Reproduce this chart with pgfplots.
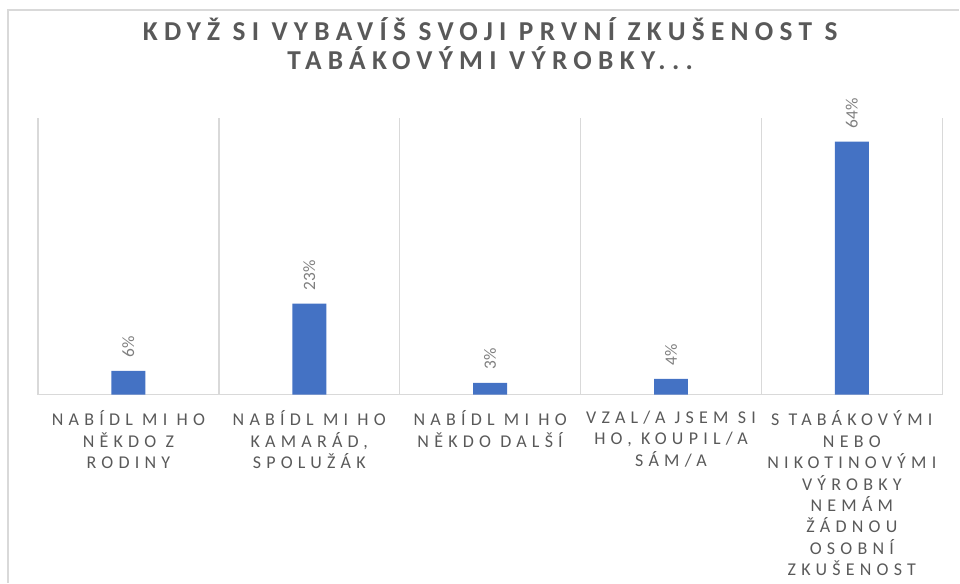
\documentclass[border=0pt]{standalone}
\usepackage{pgfplots}
\pgfplotsset{compat=1.18}
\usepackage{fontspec}
\setmainfont{Carlito}
\newfontfamily\titlefont[LetterSpace=23]{Carlito}
\newfontfamily\catfont[LetterSpace=29]{Carlito}
\definecolor{barblue}{HTML}{4472C4}
\definecolor{txtgray}{HTML}{595959}
\definecolor{lblgray}{HTML}{7F7F7F}
\definecolor{gridgray}{HTML}{D9D9D9}

\begin{document}
\begin{tikzpicture}
\begin{axis}[
    at={(0,0)}, anchor=south west,
    scale only axis, width=678.75pt, height=207.75pt,
    ybar, bar width=25.5pt,
    xmin=-0.5, xmax=4.5, ymin=0, ymax=70,
    axis x line*=bottom, axis y line=none,
    x axis line style={gridgray, line width=1.1pt},
    xtick=data, major tick length=0pt,
    minor xtick={-0.5,0.5,...,4.5},
    minor x tick style={draw=none},
    xminorgrids, minor grid style={gridgray, line width=1.1pt},
    xticklabels={
      {NABÍDL MI HO\\NĚKDO Z\\RODINY},
      {NABÍDL MI HO\\KAMARÁD,\\SPOLUŽÁK},
      {NABÍDL MI HO\\NĚKDO DALŠÍ},
      {VZAL/A JSEM SI\\HO, KOUPIL/A\\SÁM/A},
      {S TABÁKOVÝMI\\NEBO\\NIKOTINOVÝMI\\VÝROBKY\\NEMÁM\\ŽÁDNOU\\OSOBNÍ\\ZKUŠENOST}},
    xticklabel style={align=center, text=txtgray,
      font=\catfont\fontsize{13.5}{16.1}\selectfont, yshift=-8.5pt},
    title={KDYŽ SI VYBAVÍŠ SVOJI PRVNÍ ZKUŠENOST S\\TABÁKOVÝMI VÝROBKY...},
    title style={at={(0.5,1)}, anchor=center, yshift=50pt, align=center,
      text=txtgray, font=\titlefont\bfseries\fontsize{20.5}{21.75}\selectfont},
    /pgf/number format/assume math mode=true,
    nodes near coords={\pgfmathprintnumber{\pgfplotspointmeta}\%},
    nodes near coords style={rotate=90, anchor=west, inner xsep=10pt,
      inner ysep=0pt, text=lblgray, font=\fontsize{13}{13}\selectfont},
]
\addplot[fill=barblue, draw=none] coordinates {
  (0,6) (1,23) (2,3) (3,4) (4,64)
};
\end{axis}
\draw[gridgray, line width=1.1pt] (-22.5pt,-141pt) -- (-22.5pt,288.75pt) -- (691.5pt,288.75pt);
\path[use as bounding box] (-28.5pt,-141pt) rectangle (691.5pt,296.25pt);
\end{tikzpicture}
\end{document}
